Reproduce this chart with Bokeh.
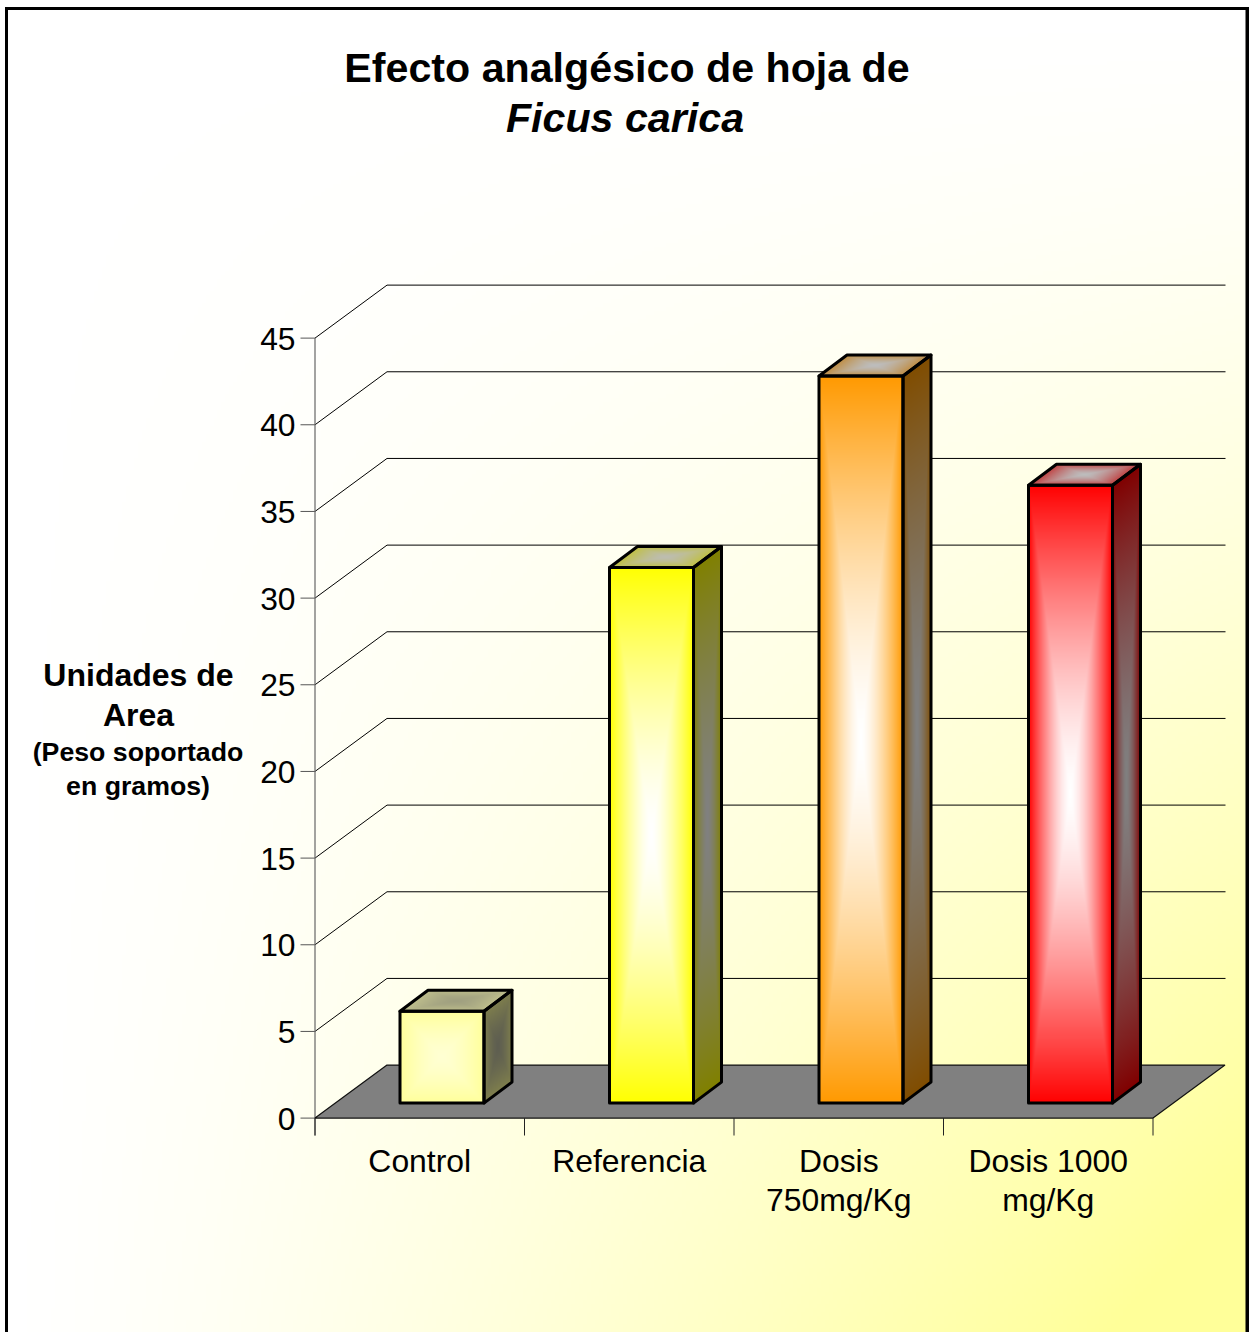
import numpy as np
from bokeh.core.properties import value
from bokeh.embed import file_html
from bokeh.models import Range1d
from bokeh.plotting import figure
from bokeh.resources import INLINE

# Chart data
categories = [["Control"], ["Referencia"], ["Dosis", "750mg/Kg"], ["Dosis 1000", "mg/Kg"]]
bar_values = [5.3, 30.9, 41.95, 35.65]
y_ticks = [0, 5, 10, 15, 20, 25, 30, 35, 40, 45]
bar_colors = ["#FFFF99", "#FFFF00", "#FF9900", "#FF0000"]
front_centers = ["#FFFFD2", "#FFFFFF", "#FFFFFF", "#FFFFFF"]
side_centers = ["#5E5E50", "#808080", "#808080", "#808080"]
top_centers = ["#A0A080", "#BDBDB0", "#BDBDBD", "#BDBDBD"]

# Page geometry and scale of the pseudo-3D plot
W, H = 1249, 1332
ORIGIN_X, ORIGIN_Y = 314.5, 1117.6
CAT_PX, UNIT_PX = 209.5, 17.333
WALL_DX, WALL_DY = 72 / CAT_PX, 53 / UNIT_PX
BAR_W, BAR_DX, BAR_DY = 84 / CAT_PX, 28 / CAT_PX, 21 / UNIT_PX
BAR_SHIFT, BAR_BASE = 22.25 / CAT_PX, 15 / UNIT_PX
FONT = value("Liberation Sans")


def dx(px):
    return (px - ORIGIN_X) / CAT_PX


def dy(py):
    return (ORIGIN_Y - py) / UNIT_PX


def rgb(color):
    return np.array([int(color[k:k + 2], 16) for k in (1, 3, 5)], dtype=float)


def mix(a, b, f):
    return a * (1 - f) + b * f


def shaded(u, v, center, edge, mask=None, power=1.5):
    """Rectangular centre-out gradient over unit coordinates u, v."""
    t = np.clip(np.maximum(np.abs(2 * u - 1), np.abs(2 * v - 1)), 0, 1) ** power
    out = np.zeros(u.shape + (4,), dtype=np.uint8)
    for k in range(3):
        out[..., k] = np.round(center[k] * (1 - t) + edge[k] * t).astype(np.uint8)
    out[..., 3] = 255 if mask is None else (mask * 255).astype(np.uint8)
    return out.view(np.uint32).reshape(u.shape)


p = figure(
    width=W, height=H,
    x_range=Range1d(dx(0), dx(W)), y_range=Range1d(dy(H), dy(0)),
    x_axis_type=None, y_axis_type=None,
    output_backend="svg", toolbar_location=None,
    min_border=0, outline_line_color=None, background_fill_color="#FFFFFF",
)

# Page background: white in the upper left, pale yellow towards the lower right corner
gx, gy = np.meshgrid(np.linspace(0, 1, 312), np.linspace(1, 0, 333))
g = np.clip(gx * gy * 1.12, 0, 1) ** 1.3
bg = np.zeros(g.shape + (4,), dtype=np.uint8)
bg[..., 0] = 255
bg[..., 1] = 255
bg[..., 2] = np.round(255 - (255 - 153) * g).astype(np.uint8)
bg[..., 3] = 255
p.image_rgba(image=[bg.view(np.uint32).reshape(g.shape)], x=dx(7), y=dy(H),
             dw=dx(1246) - dx(7), dh=dy(9) - dy(H))

# Back wall gridlines with their diagonal returns and left-hand ticks
for v in y_ticks[1:]:
    p.line([0, WALL_DX, dx(1225)], [v, v + WALL_DY, v + WALL_DY], line_color="#000000", line_width=1)
    p.line([dx(300), 0], [v, v], line_color="#555555", line_width=1)
p.line([dx(300), 0], [0, 0], line_color="#555555", line_width=1)
p.line([0, 0], [dy(1135), 45], line_color="#666666", line_width=1.2)

# Floor
p.patch([0, 4, 4 + WALL_DX, WALL_DX], [0, 0, WALL_DY, WALL_DY],
        fill_color="#808080", line_color="#111111", line_width=1.2)
for i in range(5):
    p.line([i, i], [0, dy(1135)], line_color="#222222", line_width=1)

# Bars: a shaded front, side and top face each, outlined in black
for i, val in enumerate(bar_values):
    color = rgb(bar_colors[i])
    x0 = i + 0.5 + BAR_SHIFT - BAR_W / 2
    x1 = x0 + BAR_W
    y0 = BAR_BASE
    y1 = BAR_BASE + val

    px0, px1 = ORIGIN_X + x0 * CAT_PX, ORIGIN_X + x1 * CAT_PX
    py1, py0 = ORIGIN_Y - y1 * UNIT_PX, ORIGIN_Y - y0 * UNIT_PX
    nw, nh = int(round(px1 - px0)), int(round(py0 - py1))
    dep_x, dep_y = BAR_DX * CAT_PX, BAR_DY * UNIT_PX

    # front face
    u, v = np.meshgrid((np.arange(nw) + .5) / nw, (np.arange(nh) + .5) / nh)
    p.image_rgba(image=[shaded(u, v, rgb(front_centers[i]), color)],
                 x=x0, y=y0, dw=BAR_W, dh=val)

    # side face, sampled over its bounding box
    sw, sh = int(round(dep_x)), int(round(py0 - py1 + dep_y))
    X, Y = np.meshgrid((np.arange(sw) + .5), (np.arange(sh) + .5))
    Y = Y[::-1]  # row zero is the bottom of the image
    u = X / sw
    v = (Y - dep_y + dep_y * u) / (py0 - py1)
    p.image_rgba(image=[shaded(u, v, rgb(side_centers[i]), color * 0.5, ((v >= 0) & (v <= 1)))],
                 x=x1, y=y0, dw=BAR_DX, dh=val + BAR_DY)

    # top face, sampled over its bounding box
    tw, th = int(round(px1 - px0 + dep_x)), int(round(dep_y))
    X, Y = np.meshgrid((np.arange(tw) + .5), (np.arange(th) + .5))
    v = Y / th
    u = (X - dep_x * v) / (px1 - px0)
    p.image_rgba(image=[shaded(u, v, rgb(top_centers[i]), mix(color, rgb("#808080"), 0.5),
                               ((u >= 0) & (u <= 1)))],
                 x=x0, y=y1, dw=BAR_W + BAR_DX, dh=BAR_DY)

    outline = dict(line_color="#000000", line_width=3, line_join="round", fill_color=None)
    p.patch([x1, x1 + BAR_DX, x1 + BAR_DX, x1], [y0, y0 + BAR_DY, y1 + BAR_DY, y1], **outline)
    p.patch([x0, x1, x1 + BAR_DX, x0 + BAR_DX], [y1, y1, y1 + BAR_DY, y1 + BAR_DY], **outline)
    p.patch([x0, x1, x1, x0], [y0, y0, y1, y1], **outline)

# Value axis labels
p.text(x=[dx(295)] * len(y_ticks), y=[dy(ORIGIN_Y - t * UNIT_PX + 0.4) for t in y_ticks],
       text=[str(t) for t in y_ticks],
       text_font=FONT, text_font_size="31.8px", text_align="right", text_baseline="middle",
       text_color="#000000")

# Category labels
for i, lines in enumerate(categories):
    for j, line in enumerate(lines):
        p.text(x=[i + 0.5], y=[dy(1160 + 39.5 * j)], text=[line],
               text_font=FONT, text_font_size="31.9px", text_align="center", text_baseline="middle",
               text_color="#000000")

# Title and value-axis caption
p.text(x=[dx(626.5)], y=[dy(67)], text=["Efecto analgésico de hoja de"], text_font=FONT,
       text_font_size="41.2px", text_font_style="bold", text_align="center", text_baseline="middle")
p.text(x=[dx(624.5)], y=[dy(117)], text=["Ficus carica"], text_font=FONT,
       text_font_size="41.2px", text_font_style="bold italic", text_align="center", text_baseline="middle")
p.text(x=[dx(138), dx(138)], y=[dy(674), dy(714)], text=["Unidades de", "Area"], text_font=FONT,
       text_font_size="32px", text_font_style="bold", text_align="center", text_baseline="middle")
p.text(x=[dx(137.5), dx(137.5)], y=[dy(751), dy(785)], text=["(Peso soportado", "en gramos)"], text_font=FONT,
       text_font_size="26.7px", text_font_style="bold", text_align="center", text_baseline="middle")

# Frame around the page, open at the bottom
p.line([dx(6), dx(6), dx(1247)], [dy(H), dy(8), dy(8)],
       line_color="#000000", line_width=3, line_join="miter")
p.line([dx(1247), dx(1247)], [dy(6.5), dy(H)], line_color="#000000", line_width=4)

open("out.html", "w").write(file_html(p, INLINE))
